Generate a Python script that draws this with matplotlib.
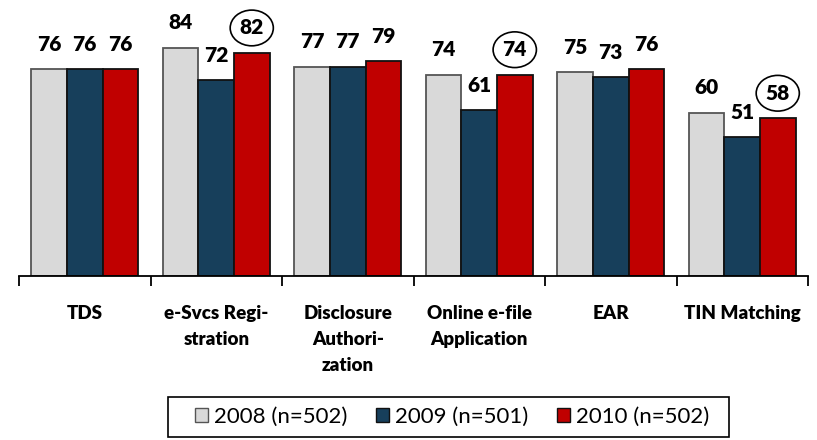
import matplotlib.pyplot as plt
from matplotlib.patches import Patch, Rectangle
import numpy as np

plt.rcParams['font.family'] = ['Lato', 'DejaVu Sans']

categories = ['TDS', 'e-Svcs Regi-\nstration', 'Disclosure\nAuthori-\nzation',
              'Online e-file\nApplication', 'EAR', 'TIN Matching']
series = ['2008 (n=502)', '2009 (n=501)', '2010 (n=502)']
v2008 = [76, 84, 77, 74, 75, 60]
v2009 = [76, 72, 77, 61, 73, 51]
v2010 = [76, 82, 79, 74, 76, 58]
circled = [1, 3, 5]  # groups where the 2010 value is ringed

colors = ['#D9D9D9', '#173F5B', '#C00000']
edges = ['#555555', '#111111', '#111111']

fig = plt.figure(figsize=(8.17, 4.4), dpi=100)
ax = fig.add_axes([19 / 817, 1 - 276 / 440, 789 / 817, 272 / 440])

x = np.arange(len(categories))
w = 0.27
for i, vals in enumerate([v2008, v2009, v2010]):
    pos = x + (i - 1) * w
    ax.bar(pos, vals, w, color=colors[i], edgecolor=edges[i], linewidth=1.3)
    for j, (p, v) in enumerate(zip(pos, vals)):
        kw = {}
        if i == 2 and j in circled:
            kw['bbox'] = dict(boxstyle='ellipse,pad=0.15', fc='none', ec='black', lw=1.2)
        ax.annotate(str(v), (p, v), xytext=(0, 18), textcoords='offset points',
                    ha='center', va='center', fontsize=15, fontweight='heavy', **kw)

ax.set_xlim(-0.5, len(categories) - 0.5)
ax.set_ylim(0, 100)
for s in ['left', 'right', 'top']:
    ax.spines[s].set_visible(False)
ax.spines['bottom'].set_linewidth(1.3)
ax.set_yticks([])
ax.set_xticks(np.arange(len(categories) + 1) - 0.5)
ax.set_xticklabels([])
ax.tick_params(axis='x', length=7, width=1.3, direction='out')
for j, c in enumerate(categories):
    ax.annotate(c, (x[j], 0), xytext=(0, -21), textcoords='offset points',
                ha='center', va='top', fontsize=13.5, fontweight='heavy', linespacing=1.65)

# legend frame drawn separately so its padding can match
fig.patches.append(Rectangle((168 / 817, 1 - 437 / 440), 561 / 817, 40 / 440,
                             transform=fig.transFigure, fill=False, ec='black', lw=1.2))
handles = [Patch(facecolor=colors[i], edgecolor=edges[i], label=series[i]) for i in range(3)]
fig.legend(handles=handles, loc='center', bbox_to_anchor=(452 / 817, 1 - 417 / 440),
           ncol=3, fontsize=16, frameon=False, handlelength=0.6,
           handleheight=0.6, handletextpad=0.25, columnspacing=1.3, borderpad=0.2)

fig.savefig('out.png', dpi=100)
